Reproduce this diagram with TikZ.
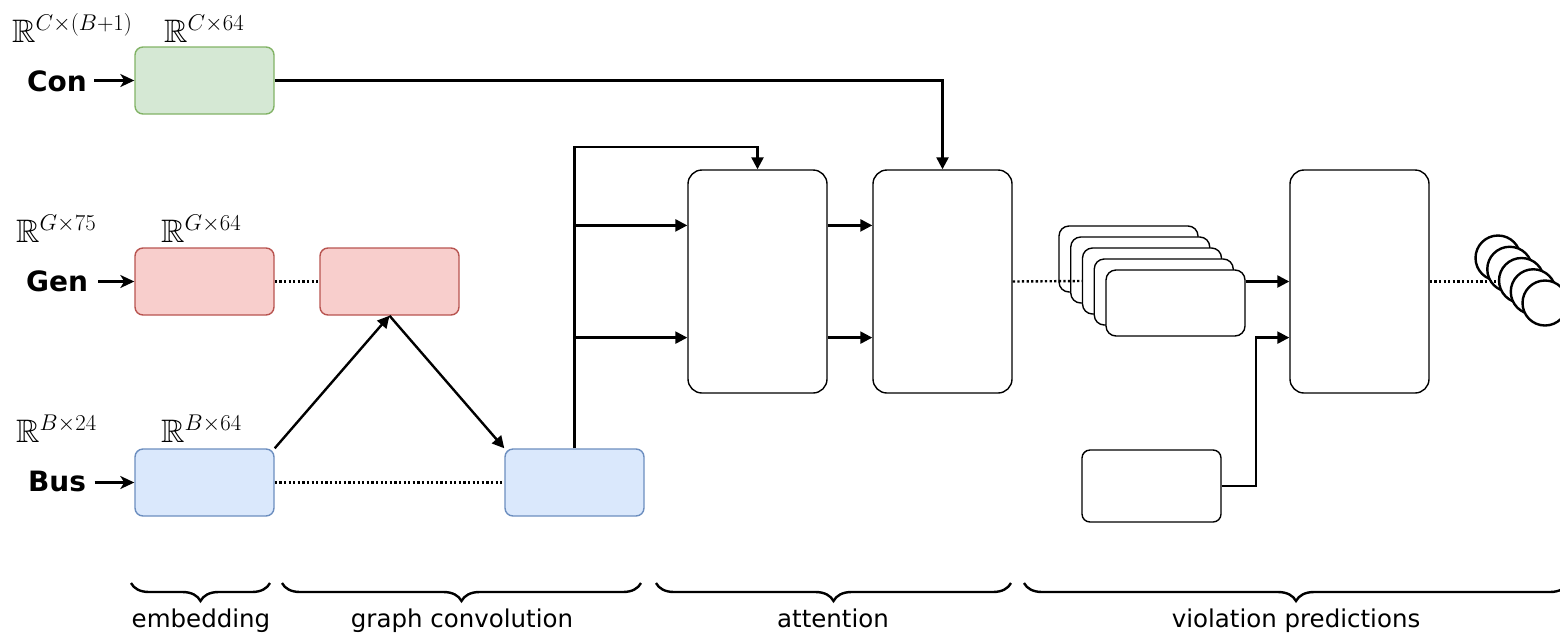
\RequirePackage{fix-cm}
\documentclass[tikz,border=0pt]{standalone}
\usepackage[no-math]{fontspec}
\usepackage{amssymb}
\setmainfont{DejaVu Sans}
\usetikzlibrary{arrows.meta,calc,decorations.pathreplacing}

\definecolor{conFill}{HTML}{D5E8D4}
\definecolor{conLine}{HTML}{82B366}
\definecolor{genFill}{HTML}{F8CECC}
\definecolor{genLine}{HTML}{B85450}
\definecolor{busFill}{HTML}{DAE8FC}
\definecolor{busLine}{HTML}{6C8EBF}

\tikzset{
  box/.style={draw, rounded corners=8, minimum width=139, minimum height=67,
    line width=1.4, inner sep=0, fill=white},
  tallbox/.style={box, rounded corners=14, minimum height=223},
  stackbox/.style={box, rounded corners=10, minimum height=66},
  outcircle/.style={draw, circle, fill=white, line width=2.4, minimum size=45, inner sep=0},
  conn/.style={line width=2.4, -{Triangle[length=12,width=12]}},
  inarr/.style={line width=2.4, -{Stealth[length=14,width=13,inset=4]}},
  dots/.style={line width=2.4, dash pattern=on 2.3 off 2.3},
  inlabel/.style={font=\fontsize{28}{30}\selectfont\bfseries, anchor=base},
  dimlabel/.style={font=\fontsize{32.5}{35}\selectfont, anchor=base west, inner sep=0},
  stagebrace/.style={line width=2.4, decorate,
    decoration={brace, mirror, amplitude=18, aspect=0.5}},
  stagelabel/.style={font=\fontsize{24.5}{28}\selectfont, anchor=base},
}

\begin{document}
\begin{tikzpicture}[x=1pt, y=-1pt]
\useasboundingbox (0,0) rectangle (1560,633);

% embedding blocks
\node[box, fill=conFill, draw=conLine] (con) at (204.5,80.5) {};
\node[box, fill=genFill, draw=genLine] (gen) at (204.5,281.5) {};
\node[box, fill=busFill, draw=busLine] (bus) at (204.5,482.5) {};

% graph convolution blocks
\node[box, fill=genFill, draw=genLine] (gen2) at (389.5,281.5) {};
\node[box, fill=busFill, draw=busLine] (bus2) at (574.5,482.5) {};

% attention blocks
\node[tallbox] (att1) at (757.5,281.5) {};
\node[tallbox] (att2) at (942.5,281.5) {};

% stacked per-constraint blocks
\node[stackbox] (s1) at (1128.5,259) {};
\node[stackbox] (s2) at (1140.25,270) {};
\node[stackbox] (s3) at (1152,281) {};
\node[stackbox] (s4) at (1163.75,292) {};
\node[stackbox] (s5) at (1175.5,303) {};

% side input and prediction head
\node[box, minimum height=72] (side) at (1151.5,486) {};
\node[tallbox] (head) at (1359.5,281.5) {};

% input names
\node[inlabel] (conlbl) at (57,91) {Con};
\node[inlabel] (genlbl) at (57,291) {Gen};
\node[inlabel] (buslbl) at (57,491) {Bus};

% dimensions
\node[dimlabel] (dcon0) at (12,42) {$\mathbb{R}^{C\times(B+1)}$};
\node[dimlabel] (dcon1) at (164,42) {$\mathbb{R}^{C\times 64}$};
\node[dimlabel] (dgen0) at (16,242) {$\mathbb{R}^{G\times 75}$};
\node[dimlabel] (dgen1) at (161,242) {$\mathbb{R}^{G\times 64}$};
\node[dimlabel] (dbus0) at (16,442) {$\mathbb{R}^{B\times 24}$};
\node[dimlabel] (dbus1) at (161,442) {$\mathbb{R}^{B\times 64}$};

% input arrows
\draw[inarr] (conlbl.east |- con.west) ++(4,0) -- (con.west);
\draw[inarr] (genlbl.east |- gen.west) ++(7,0) -- (gen.west);
\draw[inarr] (buslbl.east |- bus.west) ++(5,0) -- (bus.west);

% graph convolution wiring
\draw[dots] (gen.east) -- (gen2.west);
\draw[dots] (bus.east) -- (bus2.west);
\draw[conn] (bus.north east) -- (gen2.south);
\draw[conn] (gen2.south) -- (bus2.north west);

% into attention
\coordinate (split) at (574.5,147);
\coordinate (a1in) at ($(att1.north west)!0.25!(att1.south west)$);
\coordinate (a2in) at ($(att1.north west)!0.75!(att1.south west)$);
\draw[conn] (bus2.north) -- (split) -| (att1.north);
\draw[conn] (split |- a1in) -- (a1in);
\draw[conn] (split |- a2in) -- (a2in);
\draw[conn] ($(att1.north east)!0.25!(att1.south east)$) -- ($(att2.north west)!0.25!(att2.south west)$);
\draw[conn] ($(att1.north east)!0.75!(att1.south east)$) -- ($(att2.north west)!0.75!(att2.south west)$);
\draw[conn] (con.east) -| (att2.north);

% predictions
\draw[dots] (att2.east) -- (s3.west);
\coordinate (h2in) at ($(head.north west)!0.75!(head.south west)$);
\draw[conn] (s5.east |- head.west) -- (head.west);
\draw[conn] (side.east) -- ++(34,0) |- (h2in);

% outputs
\node[outcircle] (c1) at (1498,258) {};
\node[outcircle] (c2) at (1509.75,269.25) {};
\node[outcircle] (c3) at (1521.5,280.5) {};
\node[outcircle] (c4) at (1533.25,291.75) {};
\node[outcircle] (c5) at (1545,303) {};
\draw[dots] (head.east) -- (c3.west |- head.east);

% stage braces
\draw[stagebrace] (131,583) -- (270,583);
\draw[stagebrace] (282,583) -- (641,583);
\draw[stagebrace] (656,583) -- (1011,583);
\draw[stagebrace] (1024,583) -- (1568,583);
\node[stagelabel] (lemb) at (201,627) {embedding};
\node[stagelabel] (lgc) at (462,627) {graph convolution};
\node[stagelabel] (latt) at (833,627) {attention};
\node[stagelabel] (lviol) at (1296,627) {violation predictions};
\end{tikzpicture}
\end{document}
